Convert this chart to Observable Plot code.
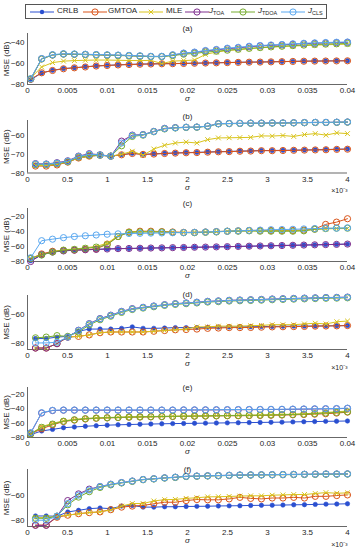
<!DOCTYPE html>
<html><head><meta charset="utf-8">
<script src="https://cdn.jsdelivr.net/npm/d3@7"></script>
<script src="https://cdn.jsdelivr.net/npm/@observablehq/plot@0.6"></script>
<style>
body{margin:0;background:#fff;}
#wrap{position:relative;width:356px;height:550px;overflow:hidden;font-family:"Liberation Sans",Arial,sans-serif;color:#262626;}
#legend{position:absolute;left:25px;top:4px;width:300px;height:13px;border:1px solid #555;background:#fff;}
.lgsw{position:absolute;top:2px;}
.lgtx{position:absolute;top:1px;font-size:8px;line-height:10px;white-space:nowrap;}
.lgtx sub{font-size:5.5px;vertical-align:-2px;}
</style></head>
<body><div id="wrap"><div id="legend"></div></div>
<script>
const seriesNames = ["CRLB","GMTOA","MLE","J_TOA","J_TDOA","J_CLS"];
const legendHtml = ["CRLB","GMTOA","MLE","<i>J</i><sub>TOA</sub>","<i>J</i><sub>TDOA</sub>","<i>J</i><sub>CLS</sub>"];

const sigmaWide = [0.0004,0.00177,0.00313,0.0045,0.00586,0.00723,0.00859,0.00996,0.01132,0.01269,0.01406,0.01542,0.01679,0.01815,0.01952,0.02088,0.02225,0.02361,0.02498,0.02634,0.02771,0.02908,0.03044,0.03181,0.03317,0.03454,0.0359,0.03727,0.03863,0.04];
const sigmaNarrow = [0.1,0.234,0.369,0.503,0.638,0.772,0.907,1.041,1.176,1.31,1.445,1.579,1.714,1.848,1.983,2.117,2.252,2.386,2.521,2.655,2.79,2.924,3.059,3.193,3.328,3.462,3.597,3.731,3.866,4.0];
const xTicksWide = [0,0.005,0.01,0.015,0.02,0.025,0.03,0.035,0.04];
const xTicksNarrow = [0,0.5,1,1.5,2,2.5,3,3.5,4];
const yTicksA = [-80,-60,-40];
const yTicksB = [-80,-70,-60];
const yTicksC = [-80,-60,-40,-20];
const yTicksD = [-80,-60];
const yTicksE = [-80,-60,-40,-20];
const yTicksF = [-80,-60];

// (a)
const a_CRLB = [-75.5,-69.2,-66.6,-65,-64.2,-63.3,-62.5,-62,-61.5,-61.1,-60.8,-60.6,-60.4,-60.3,-60.1,-59.9,-59.7,-59.5,-59.3,-59.1,-58.9,-58.8,-58.6,-58.4,-58.2,-58,-57.9,-57.8,-57.7,-57.6];
const a_GMTOA = [-75,-69,-66.8,-65.2,-64.3,-63.5,-62.6,-62.1,-61.6,-61.2,-60.9,-60.7,-60.5,-60.4,-60.2,-60,-59.8,-59.6,-59.4,-59.2,-59,-58.9,-58.7,-58.5,-58.3,-58.1,-58,-57.9,-57.8,-57.7];
const a_MLE = [-74,-63.5,-59.4,-58,-57.5,-57.2,-57,-57,-57.2,-57.4,-57.5,-57.3,-60.3,-58,-57.5,-57,-51.6,-49.5,-48,-47.3,-46.3,-45.5,-44.8,-44.3,-43.8,-43.4,-43,-42.6,-42.3,-42];
const a_JTOA = [-75,-55.8,-52.2,-51.3,-51.5,-51.7,-52,-52.3,-52.5,-52.8,-53.2,-53.6,-53.6,-52.3,-50.7,-49.8,-48.4,-47.4,-46.3,-45.5,-44.5,-43.7,-43.2,-42.7,-42.1,-41.6,-41.2,-40.9,-40.6,-40.3];
const a_JTDOA = [-74.8,-56,-52.3,-51.4,-51.6,-51.9,-52.2,-52.4,-52.7,-53,-53.4,-53.8,-53.8,-52.8,-51.5,-50.8,-49.5,-48.7,-47.7,-46.9,-46,-45.3,-44.6,-44,-43.4,-42.9,-42.4,-42,-41.7,-41.4];
const a_JCLS = [-74.5,-55.6,-51.9,-51,-51.2,-51.5,-51.8,-52,-52.3,-52.6,-53,-53.5,-53.5,-52,-50.4,-49.5,-48,-47,-45.8,-45,-44,-43.3,-42.8,-42.3,-41.7,-41.2,-40.8,-40.5,-40.2,-40];
// (b)
const b_CRLB = [-76,-76,-75.5,-74,-72,-71,-70.5,-71,-70.2,-69.5,-70,-69.8,-69.5,-69.3,-69.1,-69,-68.8,-68.6,-68.5,-68.3,-68.2,-68,-68,-67.9,-67.8,-67.7,-67.6,-67.5,-67.3,-67.2];
const b_GMTOA = [-76.3,-76.3,-75.7,-74.2,-72,-71,-70.5,-71,-70.3,-69.6,-70.1,-69.9,-69.6,-69.4,-69.2,-69.1,-68.9,-68.7,-68.6,-68.4,-68.3,-68.1,-68.1,-68,-67.9,-67.8,-67.7,-67.6,-67.4,-67.3];
const b_MLE = [-76,-76,-75.5,-74,-72,-71,-70.5,-71,-70,-68.4,-70.5,-67.2,-65.2,-64,-63.5,-64,-62.2,-61.3,-61.2,-61.1,-61,-60.2,-60.3,-60,-60.5,-59.5,-59,-59.8,-58.6,-59];
const b_JTOA = [-75,-75.2,-74.5,-73.5,-71,-69.7,-70.3,-71,-63,-59.8,-59.5,-57.8,-56.2,-55.8,-55.6,-55.5,-55,-53.7,-53.6,-53.5,-53.4,-53.4,-53.3,-53.3,-53.2,-53.1,-53,-53,-52.9,-52.8];
const b_JTDOA = [-75.5,-75.5,-75,-74,-71.5,-70.5,-70.5,-71,-65.5,-60.5,-59.8,-58,-56.5,-56,-55.7,-55.6,-55.1,-53.8,-53.7,-53.6,-53.5,-53.5,-53.4,-53.4,-53.3,-53.2,-53.1,-53.1,-53,-52.9];
const b_JCLS = [-75.2,-75.3,-74.7,-73.7,-71.2,-70,-70.4,-71,-64,-60,-59.6,-57.9,-56.3,-55.9,-55.6,-55.5,-55,-53.7,-53.6,-53.5,-53.4,-53.4,-53.3,-53.3,-53.2,-53.1,-53,-53,-52.9,-52.8];
// (c)
const c_CRLB = [-79,-71,-67.5,-66,-65,-64.5,-64,-63.5,-63,-62.8,-62.5,-62.2,-62,-61.7,-61.5,-61.2,-61,-60.7,-60.4,-60.1,-59.8,-59.5,-59.2,-58.9,-58.6,-58.3,-58,-57.7,-57.4,-57];
const c_GMTOA = [-76,-70,-66.5,-65.5,-65,-64,-63.5,-57,-47,-41,-40,-40,-40.5,-41,-41.5,-41.5,-41,-40.5,-40,-39.5,-39,-39,-39,-39,-39,-38.5,-37,-31,-28,-23.5];
const c_MLE = [-76,-71,-67,-64.5,-63.5,-62,-60,-56,-46,-41,-40.5,-40.5,-41,-41.5,-41.5,-41.5,-41,-40.5,-40,-39.5,-39.5,-39.5,-39.5,-39.5,-39.5,-39,-37.5,-37,-36.5,-36.5];
const c_JTOA = [-80,-71,-67.5,-66,-65,-64.5,-64,-63.5,-63,-62.8,-62.5,-62.2,-62,-61.7,-61.5,-61.2,-61,-60.7,-60.4,-60.1,-59.8,-59.5,-59.2,-58.9,-58.6,-58.3,-58,-57.7,-57.4,-57];
const c_JTDOA = [-76,-71.5,-67.5,-65,-64,-62.5,-61,-58,-47,-41.5,-41,-41,-41,-41.5,-42,-42,-41.5,-41,-40,-40,-39.5,-40,-40,-40,-40,-39.5,-37.5,-36.5,-36,-36];
const c_JCLS = [-75,-52.5,-50.5,-48.5,-47,-46,-45,-44,-43.5,-43,-42.8,-42.5,-42.3,-42,-41.8,-41.5,-41,-40.5,-40,-39.5,-39,-38.5,-38,-37.8,-37.5,-37,-36.5,-36,-36,-35.5];
// (d)
const d_CRLB = [-76.5,-76.5,-75.5,-75,-71.5,-70,-70,-70,-69.5,-68.5,-69.5,-69.5,-69.3,-69,-69,-69,-68.8,-68.7,-68.6,-68.5,-68.4,-68.3,-68.2,-68.1,-68,-68,-67.9,-67.8,-67.7,-67.6];
const d_GMTOA = [-83,-83,-80,-75.5,-75,-74,-72.5,-72,-72,-72,-72,-71.5,-71,-70.5,-70.3,-70,-69.5,-69.3,-69,-69,-68.9,-68.7,-68.5,-68.4,-68.3,-68.2,-68,-67.9,-67.8,-67.6];
const d_MLE = [-83,-83,-80,-75.5,-75,-74,-72.5,-72,-72,-72,-72,-71.5,-71,-70.5,-70,-68.5,-68.5,-68,-68,-68,-67.7,-67.5,-67,-67,-67,-66.5,-66,-66.5,-65,-64.5];
const d_JTOA = [-83,-83,-80,-75.5,-70.8,-66.3,-62.8,-60.5,-57.9,-56,-55.1,-54.2,-53.3,-52.6,-52.1,-51.6,-51,-50.7,-50.3,-50.1,-49.9,-49.7,-49.4,-49.2,-49,-48.8,-48.6,-48.4,-48.3,-48.1];
const d_JTDOA = [-76,-75.5,-74.5,-75,-72,-67.2,-63.6,-61.2,-58.6,-56.6,-55.6,-54.7,-53.8,-53.1,-52.6,-52.1,-51.5,-51.2,-50.8,-50.6,-50.4,-50.2,-49.9,-49.7,-49.5,-49.3,-49.1,-48.9,-48.8,-48.6];
const d_JCLS = [-79.5,-79.5,-79,-75.5,-71,-66.5,-63,-60.7,-58,-56.2,-55.2,-54.3,-53.4,-52.7,-52.2,-51.7,-51.1,-50.8,-50.4,-50.2,-50,-49.8,-49.5,-49.3,-49.1,-48.9,-48.7,-48.5,-48.4,-48.2];
// (e)
const e_CRLB = [-76,-71,-68.8,-66.5,-65.5,-64.5,-63.7,-63,-62.5,-62.1,-61.7,-61.4,-61.1,-60.8,-60.6,-60.4,-60.2,-60,-59.8,-59.6,-59.4,-59.2,-59,-58.8,-58.5,-58.2,-58,-57.7,-57.5,-57.2];
const e_GMTOA = [-75,-68,-62.5,-58,-56,-54.5,-53.5,-53,-52.5,-52,-51.8,-51.5,-51.3,-51,-50.8,-50.6,-50.4,-50.2,-50,-50,-49.8,-49.6,-49.3,-49,-48.7,-48.3,-47.8,-47.2,-46.3,-45];
const e_MLE = [-75,-65,-60.5,-57,-55,-53.8,-53,-52.4,-52,-51.6,-51.3,-51,-50.8,-50.6,-50.4,-50.2,-50,-49.8,-49.6,-49.4,-49.2,-48.9,-48.6,-48.3,-47.8,-47.2,-46.5,-45.5,-44.5,-43.5];
const e_JTOA = [-73.8,-46.2,-42.8,-42.3,-42.3,-42.3,-42.3,-42.3,-42.3,-42.3,-42.3,-42.3,-42.3,-42.3,-42.1,-42.1,-42,-41.9,-41.8,-41.7,-41.6,-41.5,-41.4,-41.3,-41.1,-40.9,-40.7,-40.5,-40.3,-39.8];
const e_JTDOA = [-75,-66,-61.5,-57.5,-55.5,-54,-53.2,-52.7,-52.3,-51.8,-51.5,-51.3,-51,-50.8,-50.6,-50.4,-50.2,-50,-49.8,-49.6,-49.4,-49.2,-48.9,-48.6,-48.2,-47.7,-47,-46.2,-45.4,-44.5];
const e_JCLS = [-73.5,-45.8,-42.5,-42,-42,-42,-42,-42,-42,-42,-42,-42,-42,-42,-41.8,-41.8,-41.7,-41.6,-41.5,-41.4,-41.3,-41.2,-41.1,-41,-40.8,-40.6,-40.4,-40.2,-40,-39.5];
// (f)
const f_CRLB = [-76.2,-76.2,-76.4,-73.1,-71.8,-70.5,-70,-70.5,-68.5,-68,-69.3,-69.3,-69,-69,-68.8,-68.7,-68.6,-68.4,-68.3,-68.2,-68,-67.9,-67.8,-67.7,-67.5,-67.4,-67.2,-67,-66.9,-66.7];
const f_GMTOA = [-83.3,-83.3,-77.2,-75.6,-74.4,-73.6,-73,-71.3,-69.3,-68.5,-68,-66.7,-65.5,-65.5,-64.2,-63.4,-63.6,-63.6,-62.9,-61.7,-62.5,-62.9,-62.2,-62.2,-61.7,-62.2,-60.9,-60.9,-60.3,-59.8];
const f_MLE = [-77.5,-77.5,-76.5,-75.5,-74.5,-73.5,-73,-71.5,-68.5,-66.5,-66.5,-64.5,-63.5,-63.3,-62.5,-62,-61.3,-61.2,-61,-60.7,-60.5,-60.5,-60,-59.8,-59.5,-59.5,-58.7,-58,-58.5,-58.2];
const f_JTOA = [-83.5,-83.5,-76.4,-64.2,-59,-55.3,-53.3,-51.5,-50.2,-49,-47.8,-47.2,-46.5,-46,-45.3,-45.1,-44.9,-44.7,-44.5,-44.3,-44.2,-44.1,-44,-43.9,-43.8,-43.7,-43.6,-43.5,-43.5,-43.4];
const f_JTDOA = [-78,-78,-76.4,-67.5,-61.5,-57.3,-54,-52,-50.5,-49.3,-48,-47.4,-46.7,-46.2,-45.5,-45.3,-45.1,-44.9,-44.7,-44.5,-44.4,-44.3,-44.2,-44.1,-44,-43.9,-43.8,-43.7,-43.7,-43.6];
const f_JCLS = [-79.5,-79.5,-76.4,-66.5,-60,-56,-53.3,-51.5,-50.2,-49,-47.8,-47.2,-46.5,-46,-45.3,-45.1,-44.9,-44.7,-44.5,-44.3,-44.2,-44.1,-44,-43.9,-43.8,-43.7,-43.6,-43.5,-43.5,-43.4];

const COL = {CRLB:"#2a4fd0", GMTOA:"#d95319", MLE:"#d9c41c", J_TOA:"#7e2f8e", J_TDOA:"#77ac30", J_CLS:"#5aa8f0"};

const panels = [
  {title:"(a)", xs:sigmaWide, wide:true, pt:33, pb:84, yDomain:[-80,-32], yTicks:yTicksA, tgap:8,
   data:{CRLB:a_CRLB,GMTOA:a_GMTOA,MLE:a_MLE,J_TOA:a_JTOA,J_TDOA:a_JTDOA,J_CLS:a_JCLS}},
  {title:"(b)", xs:sigmaNarrow, wide:false, pt:120, pb:172.5, yDomain:[-80,-52], yTicks:yTicksB, tgap:7,
   data:{CRLB:b_CRLB,GMTOA:b_GMTOA,MLE:b_MLE,J_TOA:b_JTOA,J_TDOA:b_JTDOA,J_CLS:b_JCLS}},
  {title:"(c)", xs:sigmaWide, wide:true, pt:208, pb:261, yDomain:[-80,-10], yTicks:yTicksC, tgap:8,
   data:{CRLB:c_CRLB,GMTOA:c_GMTOA,MLE:c_MLE,J_TOA:c_JTOA,J_TDOA:c_JTDOA,J_CLS:c_JCLS}},
  {title:"(d)", xs:sigmaNarrow, wide:false, pt:295, pb:349, yDomain:[-84,-47], yTicks:yTicksD, tgap:4,
   data:{CRLB:d_CRLB,GMTOA:d_GMTOA,MLE:d_MLE,J_TOA:d_JTOA,J_TDOA:d_JTDOA,J_CLS:d_JCLS}},
  {title:"(e)", xs:sigmaWide, wide:true, pt:387, pb:437, yDomain:[-80,-11], yTicks:yTicksE, tgap:3,
   data:{CRLB:e_CRLB,GMTOA:e_GMTOA,MLE:e_MLE,J_TOA:e_JTOA,J_TDOA:e_JTDOA,J_CLS:e_JCLS}},
  {title:"(f)", xs:sigmaNarrow, wide:false, pt:469, pb:526, yDomain:[-84.4,-40], yTicks:yTicksF, tgap:3,
   data:{CRLB:f_CRLB,GMTOA:f_GMTOA,MLE:f_MLE,J_TOA:f_JTOA,J_TDOA:f_JTDOA,J_CLS:f_JCLS}}
];

function markerMark(s, d) {
  if (s === "CRLB") return Plot.dot(d, {x:"x", y:"y", r:2.2, fill:COL[s], stroke:COL[s], strokeWidth:0.6});
  if (s === "MLE") return Plot.dot(d, {x:"x", y:"y", r:2.3, symbol:"times", stroke:COL[s], strokeWidth:1});
  return Plot.dot(d, {x:"x", y:"y", r:3.1, fill:"none", stroke:COL[s], strokeWidth:1});
}

const wrap = document.getElementById("wrap");
for (const p of panels) {
  const rows = [];
  seriesNames.forEach(s => p.data[s].forEach((v, i) => rows.push({x: p.xs[i], y: v, s})));
  const marks = [
    Plot.axisX({ticks: p.wide ? xTicksWide : xTicksNarrow,
      tickFormat: p.wide ? (d => String(+d.toFixed(3))) : (d => String(d)),
      tickSize: 0, tickPadding: 3, label: null}),
    Plot.axisY({ticks: p.yTicks, tickSize: 0, tickPadding: 3, label: "MSE (dB)", labelArrow: "none", labelAnchor: "center", labelOffset: 24}),
    Plot.ruleX([0], {stroke: "#262626", strokeWidth: 0.7}),
    Plot.ruleY([p.yDomain[0]], {stroke: "#262626", strokeWidth: 0.7})
  ];
  for (const s of seriesNames) {
    const d = rows.filter(r => r.s === s);
    marks.push(Plot.line(d, {x: "x", y: "y", stroke: COL[s], strokeWidth: 1}));
    marks.push(markerMark(s, d));
  }
  marks.push(Plot.text([p.title], {frameAnchor: "top", dy: -p.tgap, text: d => d, fontSize: 8}));
  marks.push(Plot.text(["σ"], {frameAnchor: "bottom", dy: 16.5, text: d => d, fontStyle: "italic", fontSize: 8}));
  if (!p.wide) marks.push(Plot.text(["×10⁻³"], {frameAnchor: "bottom-right", dy: 20, textAnchor: "end", text: d => d, fontSize: 7}));
  const chart = Plot.plot({
    width: 356, height: p.pb - p.pt + 38,
    marginTop: 12, marginBottom: 26, marginLeft: 27, marginRight: 9,
    x: {domain: p.wide ? [0, 0.04] : [0, 4]},
    y: {domain: p.yDomain},
    style: {fontFamily: "Liberation Sans, Arial, sans-serif", fontSize: "8px", color: "#262626", background: "transparent", overflow: "visible"},
    marks
  });
  chart.style.position = "absolute";
  chart.style.left = "0px";
  chart.style.top = (p.pt - 12) + "px";
  wrap.appendChild(chart);
}

// legend
const legend = document.getElementById("legend");
const swCenters = [42, 95, 151, 197, 243, 293];
const txLefts = [57, 108, 166, 209, 258, 308];
seriesNames.forEach((s, i) => {
  const svg = d3.create("svg").attr("class", "lgsw").attr("width", 24).attr("height", 10)
    .style("left", (swCenters[i] - 12 - 26) + "px");
  svg.append("line").attr("x1", 0).attr("x2", 24).attr("y1", 5).attr("y2", 5).attr("stroke", COL[s]).attr("stroke-width", 1);
  if (s === "CRLB") svg.append("circle").attr("cx", 12).attr("cy", 5).attr("r", 2.2).attr("fill", COL[s]);
  else if (s === "MLE") svg.append("path").attr("d", "M9.7,2.7L14.3,7.3M14.3,2.7L9.7,7.3").attr("stroke", COL[s]).attr("stroke-width", 1);
  else svg.append("circle").attr("cx", 12).attr("cy", 5).attr("r", 3.1).attr("fill", "none").attr("stroke", COL[s]);
  legend.appendChild(svg.node());
  const t = document.createElement("div");
  t.className = "lgtx";
  t.style.left = (txLefts[i] - 26) + "px";
  t.innerHTML = legendHtml[i];
  legend.appendChild(t);
});
</script>
</body></html>
